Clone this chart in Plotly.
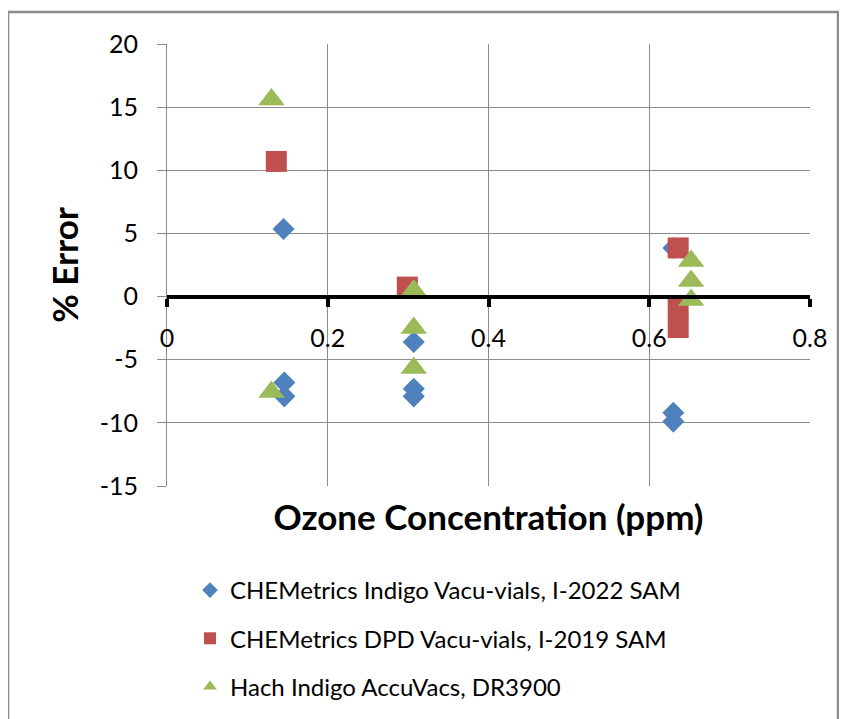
import plotly.graph_objects as go

# ---- data ----
series_names = [
    "CHEMetrics Indigo Vacu-vials, I-2022 SAM",
    "CHEMetrics DPD Vacu-vials, I-2019 SAM",
    "Hach Indigo AccuVacs, DR3900",
]
indigo_x = [0.145, 0.146, 0.146, 0.307, 0.307, 0.307, 0.630, 0.630, 0.630]
indigo_y = [5.35, -6.8, -7.9, -3.6, -7.3, -7.9, 3.85, -9.2, -9.9]

dpd_x = [0.136, 0.299, 0.636, 0.636, 0.636]
dpd_y = [10.7, 0.75, 3.85, -0.86, -2.45]

hach_x = [0.130, 0.130, 0.307, 0.307, 0.307, 0.652, 0.652, 0.652]
hach_y = [15.6, -7.55, 0.48, -2.49, -5.65, 2.82, 1.24, -0.27]

x_ticks = [0, 0.2, 0.4, 0.6, 0.8]
x_tick_labels = ["0", "0.2", "0.4", "0.6", "0.8"]
y_ticks = [-15, -10, -5, 0, 5, 10, 15, 20]
y_tick_labels = ["-15", "-10", "-5", "0", "5", "10", "15", "20"]

colors = ["#4F81BD", "#C0504D", "#9BBB59"]
symbols = ["diamond", "square", "triangle-up"]
sizes = [17, 21, 23]

FONT = "Lato, 'Open Sans', sans-serif"

fig = go.Figure()
for i, (xs, ys) in enumerate([(indigo_x, indigo_y), (dpd_x, dpd_y), (hach_x, hach_y)]):
    fig.add_trace(go.Scatter(
        x=xs, y=ys, mode="markers", name=series_names[i],
        legendgroup=f"g{i}",
        marker=dict(symbol=symbols[i], size=sizes[i], color=colors[i], line=dict(width=0)),
    ))

# page-pixel geometry (page body has an 8px margin)
OFF = 8
L, R, T, B = 167 - OFF, 810 - OFF, 44 - OFF, 486 - OFF
W, H = 847 - OFF, 719 - OFF
pw, ph = R - L, B - T
y0_frac = (0 - (-15)) / 35.0

def px_x(page_x):
    return (page_x - OFF - L) / pw

def px_y(page_y):
    return (B - (page_y - OFF)) / ph

fig.update_layout(
    width=W, height=H,
    margin=dict(l=L, r=W - R, t=T, b=H - B, autoexpand=False),
    paper_bgcolor="white", plot_bgcolor="white",
    font=dict(family=FONT, color="black"),
    showlegend=True,
    legend=dict(
        x=px_x(190), y=px_y(568), xanchor="left", yanchor="top",
        orientation="v", font=dict(size=24, family=FONT, color="black"),
        tracegroupgap=14, bgcolor="rgba(0,0,0,0)", itemsizing="constant",
    ),
    xaxis=dict(
        range=[0, 0.8], tickvals=x_ticks, ticktext=x_tick_labels,
        anchor="free", position=y0_frac,
        showline=True, linecolor="black", linewidth=4,
        ticks="outside", ticklen=8, tickwidth=4, tickcolor="black",
        tickfont=dict(size=25, family=FONT, color="black"),
        ticklabelstandoff=10,
        showgrid=True, gridcolor="#8c8c8c", gridwidth=1,
        zeroline=False,
        title=dict(text="<b>Ozone Concentration (ppm)</b>", font=dict(size=35, family=FONT, color="black"), standoff=154),
    ),
    yaxis=dict(
        range=[-15, 20], tickvals=y_ticks, ticktext=y_tick_labels,
        showline=True, linecolor="#8c8c8c", linewidth=1,
        ticks="outside", ticklen=9, tickcolor="#8c8c8c",
        tickfont=dict(size=25, family=FONT, color="black"),
        ticklabelstandoff=14,
        showgrid=True, gridcolor="#8c8c8c", gridwidth=1,
        zeroline=False,
        title=dict(text="<b>% Error</b>", font=dict(size=35, family=FONT, color="black"), standoff=10),
    ),
)

# outer chart frame
fig.add_shape(type="rect", xref="paper", yref="paper",
              x0=px_x(8), x1=px_x(838),
              y0=px_y(770), y1=px_y(12),
              line=dict(color="#8c8c8c", width=2.5), fillcolor="rgba(0,0,0,0)", layer="below")

fig.write_html("out.html")
